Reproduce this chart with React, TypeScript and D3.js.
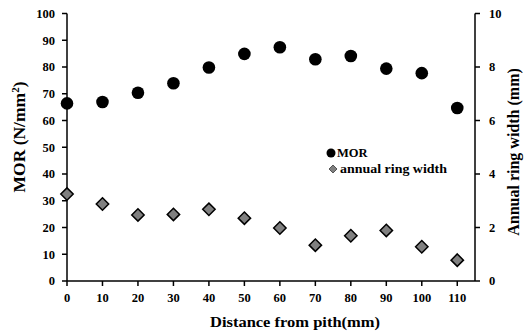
import React from "react";
import * as d3 from "d3";

// Distance from the pith (mm)
const distances = [0, 10, 20, 30, 40, 50, 60, 70, 80, 90, 100, 110];
// Modulus of rupture (N/mm²)
const morValues = [66.4, 66.9, 70.4, 73.9, 79.8, 84.9, 87.4, 82.9, 84.1, 79.4, 77.7, 64.7];
// Annual ring width (mm)
const ringWidths = [3.25, 2.88, 2.47, 2.49, 2.68, 2.35, 1.98, 1.34, 1.69, 1.89, 1.28, 0.78];

const xTicks = [0, 10, 20, 30, 40, 50, 60, 70, 80, 90, 100, 110];
const leftTicks = [0, 10, 20, 30, 40, 50, 60, 70, 80, 90, 100];
const rightTicks = [0, 2, 4, 6, 8, 10];

const W = 524;
const H = 334;
const FONT = "'Liberation Serif', 'Times New Roman', serif";

export default function App() {
  const left = 67;
  const right = 475;
  const top = 13.5;
  const bottom = 281;

  const x = d3.scaleLinear().domain([0, 115]).range([left, right]);
  const yL = d3.scaleLinear().domain([0, 100]).range([bottom, top]);
  const yR = d3.scaleLinear().domain([0, 10]).range([bottom, top]);

  const diamond = (cx: number, cy: number, r: number) =>
    `M${cx},${cy - r}L${cx + r},${cy}L${cx},${cy + r}L${cx - r},${cy}Z`;

  return (
    <svg
      width={W}
      height={H}
      style={{ position: "absolute", left: 0, top: 0, background: "#fff" }}
      fontFamily={FONT}
      fontWeight="bold"
    >
      {/* axes lines */}
      <line x1={left} x2={left} y1={top} y2={bottom} stroke="#000" strokeWidth={1.5} />
      <line x1={right} x2={right} y1={top} y2={bottom} stroke="#000" strokeWidth={1.5} />
      <line x1={left} x2={right} y1={bottom} y2={bottom} stroke="#000" strokeWidth={1.5} />

      {/* left axis ticks */}
      {leftTicks.map((t) => (
        <g key={`l${t}`}>
          <line x1={left - 5} x2={left} y1={yL(t)} y2={yL(t)} stroke="#000" strokeWidth={1.5} />
          <text x={left - 12} y={yL(t)} dy="0.35em" textAnchor="end" fontSize={12.5}>
            {t}
          </text>
        </g>
      ))}

      {/* right axis ticks */}
      {rightTicks.map((t) => (
        <g key={`r${t}`}>
          <line x1={right} x2={right + 5} y1={yR(t)} y2={yR(t)} stroke="#000" strokeWidth={1.5} />
          <text x={right + 14} y={yR(t)} dy="0.35em" textAnchor="start" fontSize={12.5}>
            {t}
          </text>
        </g>
      ))}

      {/* bottom axis ticks */}
      {xTicks.map((t) => (
        <g key={`x${t}`}>
          <line x1={x(t)} x2={x(t)} y1={bottom} y2={bottom + 5} stroke="#000" strokeWidth={1.5} />
          <text x={x(t)} y={bottom + 21} textAnchor="middle" fontSize={12.5}>
            {t}
          </text>
        </g>
      ))}

      {/* axis titles */}
      <text x={210} y={327} textAnchor="start" fontSize={15.5} textLength={170} lengthAdjust="spacingAndGlyphs">
        Distance from pith(mm)
      </text>
      <text
        transform={`translate(25,137) rotate(-90)`}
        textAnchor="middle"
        fontSize={17.5}
      >
        MOR (N/mm
        <tspan fontSize={11} dy={-6}>2</tspan>
        <tspan dy={6}>)</tspan>
      </text>
      <text
        transform={`translate(519,152) rotate(-90)`}
        textAnchor="middle"
        fontSize={16}
      >
        Annual ring width (mm)
      </text>

      {/* MOR points */}
      {distances.map((d, i) => (
        <circle key={`m${i}`} cx={x(d)} cy={yL(morValues[i])} r={6.3} fill="#000" />
      ))}

      {/* ring width points */}
      {distances.map((d, i) => (
        <path
          key={`w${i}`}
          d={diamond(x(d), yR(ringWidths[i]), 6.2)}
          fill="#808080"
          stroke="#000"
          strokeWidth={1.5}
        />
      ))}

      {/* legend */}
      <circle cx={331} cy={153} r={4.5} fill="#000" />
      <text x={337} y={153} dy="0.35em" fontSize={12.5}>
        MOR
      </text>
      <path d={diamond(333, 169, 4)} fill="#808080" stroke="#555" strokeWidth={1} />
      <text x={340} y={169} dy="0.35em" fontSize={12} textLength={107} lengthAdjust="spacingAndGlyphs">
        annual ring width
      </text>
    </svg>
  );
}
